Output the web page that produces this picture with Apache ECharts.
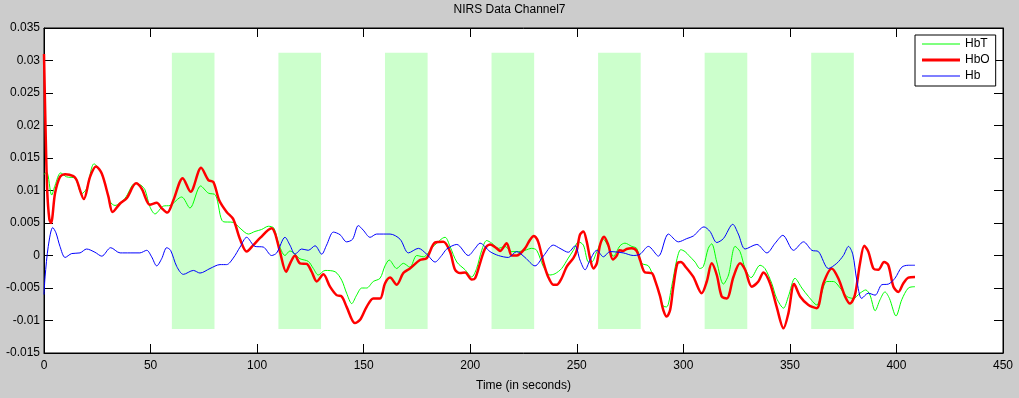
<!DOCTYPE html>
<html>
<head>
<meta charset="utf-8">
<title>NIRS Data Channel7</title>
<script src="https://cdn.jsdelivr.net/npm/echarts@6/dist/echarts.min.js"></script>
<style>
    html, body { margin: 0; padding: 0; background: #cccccc; }
    #main { width: 1019px; height: 398px; }
</style>
</head>
<body>
<div id="main"></div>
<script>
// stimulus blocks (seconds)
var blockStarts = [60, 110, 160, 210, 260, 310, 360];
var blockLength = 20;
var blockTop = 0.0312;
var blockBottom = -0.0113;

var xTicks = [0, 450, 50];          // min, max, step
var yTicks = [-0.015, 0.035, 0.005];

// [time, value]
var hbtPoints = [
    [0, 0.0125], [1.3, 0.0128], [3.6, 0.0093], [5.2, 0.0108], [7.8, 0.0127], [10.6, 0.0121],
    [14.5, 0.0119], [17.7, 0.0095], [20, 0.0103], [23.5, 0.0141], [27.1, 0.0126], [31, 0.0083],
    [33.3, 0.0077], [38, 0.0088], [42.7, 0.0111], [45.5, 0.0108], [47.4, 0.0101], [49.7, 0.0075],
    [52.1, 0.0064], [56, 0.0076], [59.1, 0.0077], [64.6, 0.0090], [68.5, 0.0073], [73.5, 0.0107],
    [77.1, 0.0096], [80.5, 0.0093], [84.1, 0.0052], [88.8, 0.0051], [92, 0.0042], [95.9, 0.0033],
    [99, 0.0037], [102.1, 0.0040], [105.3, 0.0045], [107.9, 0.0042], [110, 0.0019], [113.1, 0.0],
    [115.4, 0.0007], [117.8, 0.0002], [120.1, -0.0005], [124, -0.0009], [126.4, -0.0020],
    [128.7, -0.0030], [131.9, -0.0023], [136.6, -0.0025], [139.7, -0.0038], [142, -0.0058],
    [144.4, -0.0074], [146.7, -0.0061], [149.1, -0.0050], [151.4, -0.0050], [154.5, -0.0040],
    [157.7, -0.0035], [160, -0.0016], [162, -0.0007], [165.5, -0.0020], [168.6, -0.0012],
    [171.7, -0.0018], [174.9, 0.0], [178, -0.0002], [182.7, 0.0014], [188.2, 0.0028], [190.5, 0.0014],
    [193.7, -0.0010], [197.6, -0.0022], [200.7, -0.0033], [203, -0.0020], [205.4, 0.0008],
    [207.7, 0.0023], [210.1, 0.0019], [213.2, 0.0011], [216.3, 0.0014], [219.5, 0.0006],
    [222.6, 0.0006], [225.7, 0.0008], [228.8, 0.0011], [231.2, 0.0008], [234.3, -0.0017],
    [237.4, -0.0030], [239.8, -0.0028], [242.9, -0.0020], [246, -0.0004], [248.4, 0.0008],
    [250.8, 0.0021], [253.1, 0.0016], [255.5, -0.0010], [257, -0.0010], [259.4, 0.0006],
    [262.5, 0.0025], [264.8, 0.0014], [267.2, -0.0001], [270.3, 0.0015], [272.6, 0.0019],
    [275.8, 0.0014], [278.1, 0.0011], [280.5, -0.0012], [283.6, -0.0016], [286, -0.0033],
    [288.3, -0.0053], [290.6, -0.0078], [292.2, -0.0079], [294.5, -0.0048], [296.9, -0.0007],
    [298.8, 0.0009], [300.8, 0.0006], [302.6, 0.0], [305.5, -0.0010], [307.8, -0.0020],
    [309.4, -0.0017], [311.7, 0.0011], [313.3, 0.0018], [315.7, -0.0010], [318.8, -0.0044],
    [321.2, -0.0030], [324.3, 0.0014], [326.6, 0.0006], [329, -0.0020], [331.8, -0.0034],
    [336, -0.0015], [338.3, -0.0020], [341.5, -0.0043], [343.8, -0.0066], [347, -0.0081],
    [349.3, -0.0063], [352.4, -0.0035], [355.6, -0.0050], [358.7, -0.0063], [362.6, -0.0076],
    [367.3, -0.0040], [370.4, -0.0040], [373.6, -0.0050], [376.7, -0.0063], [379.8, -0.0066],
    [382.9, -0.0058], [385.6, -0.0053], [387.6, -0.0061], [390, -0.0085], [392.3, -0.0068],
    [394.6, -0.0056], [396.7, -0.0066], [399.8, -0.0093], [402.5, -0.0068], [405.6, -0.0050],
    [408.7, -0.0048]
];

var hboPoints = [
    [0, 0.031], [0.7, 0.020], [1.5, 0.010], [2.5, 0.0056], [3.3, 0.0050], [5.2, 0.0096],
    [7.5, 0.0121], [9.9, 0.0125], [13.8, 0.0122], [15.3, 0.0116], [18.7, 0.0087], [21.6, 0.0121],
    [24.4, 0.0137], [27.1, 0.0126], [30.2, 0.0091], [32.2, 0.0067], [35.7, 0.0080], [38.8, 0.0088],
    [43.2, 0.0111], [45.8, 0.0103], [49.7, 0.0078], [52.9, 0.0081], [55.2, 0.0073], [57.9, 0.0066],
    [60.7, 0.0085], [65.1, 0.0119], [68.8, 0.0098], [73.7, 0.0135], [77.1, 0.0116], [79.5, 0.0113],
    [82.2, 0.0085], [85.7, 0.0067], [88.8, 0.0056], [92, 0.0025], [95.1, 0.0006], [98.2, 0.0016],
    [101.4, 0.0027], [106.8, 0.0042], [108.4, 0.0034], [110.7, 0.0006], [113.6, -0.0025],
    [115.5, -0.0012], [117.8, 0.0], [120.1, -0.0012], [123.3, -0.0013], [125.6, -0.0025],
    [128, -0.0040], [131.1, -0.0029], [134.2, -0.0048], [137.3, -0.0061], [139.7, -0.0063],
    [142, -0.0079], [145.9, -0.0104], [148.3, -0.0099], [151.4, -0.0079], [154.5, -0.0066],
    [157.7, -0.0066], [160, -0.0043], [162.4, -0.0034], [165.5, -0.0045], [168.6, -0.0027],
    [171.7, -0.0020], [176.4, -0.0007], [179.6, -0.0004], [183.5, 0.0020], [187.4, 0.0021],
    [190.5, 0.0006], [192.9, -0.0022], [195.2, -0.0027], [197.6, -0.0026], [200.7, -0.0037],
    [202.3, -0.0035], [204.6, -0.0012], [207, 0.0011], [209.3, 0.0017], [212.4, 0.0011],
    [214, 0.0007], [217.1, 0.0019], [219.5, 0.0], [221.8, 0.0], [225.7, 0.0011], [228, 0.0024],
    [229.9, 0.0030], [231.9, 0.0021], [234.3, -0.0010], [236.6, -0.0033], [239, -0.0045],
    [240.6, -0.0045], [242.9, -0.0035], [245.3, -0.0017], [248.4, -0.0004], [250, 0.0008],
    [251.5, 0.0032], [253.1, 0.0037], [254.7, 0.0021], [256.2, -0.0004], [257.8, -0.0020],
    [259.4, -0.0012], [260.9, 0.0016], [262.8, 0.0029], [264.8, 0.0016], [266.9, -0.0006],
    [268.8, 0.0], [270, 0.0008], [271.6, 0.0007], [273.4, 0.0010], [275.8, 0.0011], [278.1, 0.0007],
    [279.7, -0.0007], [282, -0.0026], [285.2, -0.0027], [286.7, -0.0038], [289.1, -0.0063],
    [290.6, -0.0084], [292.2, -0.0094], [293.8, -0.0084], [295.3, -0.0048], [297.2, -0.0012],
    [298.8, -0.0010], [301.2, -0.0018], [304.7, -0.0033], [308.6, -0.0058], [311, -0.0040],
    [313.3, -0.0012], [315.7, -0.0030], [318, -0.0063], [320.4, -0.0066], [323.5, -0.0033],
    [326.6, -0.0012], [329, -0.0022], [332.1, -0.0048], [335.2, -0.0040], [337.6, -0.0026],
    [340.7, -0.0043], [343.8, -0.0079], [347, -0.0112], [349.3, -0.0089], [352, -0.0044],
    [354.8, -0.0063], [358.7, -0.0076], [362.6, -0.0081], [365.7, -0.0043], [369.6, -0.0020],
    [372.7, -0.0035], [375.9, -0.0063], [378.2, -0.0074], [380.5, -0.0061], [382.9, -0.0012],
    [384.9, 0.0015], [386.8, 0.0006], [389.2, -0.0020], [391.5, -0.0022], [394.2, -0.0010],
    [396.2, -0.0015], [398.6, -0.0048], [400.9, -0.0056], [403.2, -0.0043], [405.6, -0.0034],
    [408.7, -0.0033]
];

var hbPoints = [
    [0, -0.006], [0.5, -0.0033], [2, 0.0014], [4.1, 0.0043], [5.6, 0.0035], [7.5, 0.0014],
    [9.9, -0.0003], [13, 0.0003], [16.9, 0.0004], [20, 0.0010], [23.9, 0.0005], [27.1, -0.0001],
    [31.3, 0.0012], [35.7, 0.0004], [40.4, 0.0004], [45, 0.0004], [48.2, 0.0008], [50.5, -0.0002],
    [52.9, -0.0016], [55.2, -0.0005], [57.6, 0.0012], [59.4, 0.0008], [62.3, -0.0017],
    [65.4, -0.0029], [70.1, -0.0023], [73.2, -0.0027], [77.9, -0.0020], [82.6, -0.0014],
    [85.7, -0.0014], [88.8, -0.0004], [92, 0.0013], [95.1, 0.0028], [99, 0.0014], [102.9, 0.0013],
    [106.8, 0.0], [109.2, 0.0004], [113.1, 0.0028], [115.4, 0.0016], [117.8, 0.0002],
    [120.9, 0.0010], [124, 0.0008], [127.2, 0.0015], [130.3, 0.0002], [132.6, 0.0016],
    [135.8, 0.0036], [138.9, 0.0032], [142, 0.0021], [144.8, 0.0025], [147.5, 0.0046],
    [149.8, 0.0039], [153, 0.0028], [156.1, 0.0033], [162.4, 0.0033], [167.1, 0.0025],
    [171, 0.0004], [175.7, 0.0011], [179.6, 0.0002], [183.5, -0.0010], [186.6, 0.0], [189, 0.0010],
    [193.7, 0.0017], [199.1, 0.0], [202.3, 0.0011], [204.6, 0.0019], [209.3, 0.0006], [213.2, 0.0],
    [217.9, -0.0003], [221.8, 0.0006], [225.7, -0.0003], [230.4, -0.0016], [234.3, -0.0001],
    [239, 0.0016], [242.1, 0.0011], [246, 0.0005], [249.2, 0.0015], [251.5, -0.0007],
    [253.9, -0.0022], [256.2, -0.0007], [259.4, 0.0008], [262.5, -0.0002], [265.6, 0.0006],
    [271.8, 0.0004], [276.5, 0.0], [279.7, 0.0002], [283.6, 0.0014], [288.3, -0.0001],
    [293, 0.0033], [297.7, 0.0021], [301.6, 0.0026], [304.7, 0.0030], [309.7, 0.0044],
    [312.5, 0.0037], [315.7, 0.0020], [318.8, 0.0026], [323.2, 0.0048], [325.8, 0.0033],
    [329, 0.0010], [334.5, 0.0017], [339.2, 0.0004], [343.1, 0.0019], [346.7, 0.0031],
    [351.7, 0.0008], [356.4, 0.0021], [360.3, 0.0008], [363.4, 0.0006], [368.1, -0.0020],
    [372, -0.0012], [375.1, 0.0], [377.5, 0.0014], [379.5, 0.0002], [381.4, -0.0038],
    [383.7, -0.0066], [386.8, -0.0058], [390, -0.0061], [393.1, -0.0045], [396.2, -0.0044],
    [399.3, -0.0035], [402.5, -0.0018], [405.6, -0.0015], [408.7, -0.0015]
];

var FONT = 'Liberation Sans';

var dom = document.getElementById('main');
var myChart = echarts.init(dom);

// shaded blocks: [start, end, bottom, top]
var blockRects = [];
for (var i = 0; i < blockStarts.length; i++) {
    blockRects.push([blockStarts[i], blockStarts[i] + blockLength, blockBottom, blockTop]);
}

function renderBlock(params, api) {
    var p1 = api.coord([api.value(0), api.value(3)]);
    var p2 = api.coord([api.value(1), api.value(2)]);
    return {
        type: 'rect',
        shape: { x: p1[0], y: p1[1], width: p2[0] - p1[0], height: p2[1] - p1[1] },
        style: { fill: '#ccffcc' }
    };
}

function yLabel(v) {
    return String(+v.toFixed(3));
}

// matlab style: ticks inside, on all four sides.
// each visible axis sits "on zero" of a helper axis whose zero is at the wanted edge
function makeAxis(ticks, pos, withLabels, zeroIndex) {
    return {
        type: 'value',
        position: pos,
        min: ticks[0],
        max: ticks[1],
        interval: ticks[2],
        axisLine: { show: true, onZero: true, onZeroAxisIndex: zeroIndex, lineStyle: { color: '#000' } },
        axisTick: { show: true, inside: true, length: 9, lineStyle: { color: '#000', width: 1 } },
        axisLabel: { show: withLabels, color: '#000', fontSize: 12, fontFamily: FONT },
        splitLine: { show: false }
    };
}

function helperAxis(inverse) {
    return { type: 'value', min: 0, max: 1, inverse: inverse, show: false };
}

var xBottom = makeAxis(xTicks, 'bottom', true, 2);
xBottom.name = 'Time (in seconds)';
xBottom.nameLocation = 'middle';
xBottom.nameGap = 27;
xBottom.nameTextStyle = { color: '#000', fontSize: 12, fontFamily: FONT };
xBottom.axisLabel.margin = 7;

var yLeft = makeAxis(yTicks, 'left', true, 0);
yLeft.axisLabel.margin = 4;
yLeft.axisLabel.formatter = yLabel;

// plain line icons for the legend (thin / thick)
var thinIcon = 'path://M0,0H38V1H0Z';
var thickIcon = 'path://M0,0H38V3H0Z';

option = {
    backgroundColor: '#cccccc',
    animation: false,
    title: {
        text: 'NIRS Data Channel7',
        left: 'center',
        top: 4,
        padding: 0,
        textStyle: { color: '#000', fontSize: 12, fontWeight: 'normal', fontFamily: FONT }
    },
    legend: {
        data: [
            { name: 'HbT', icon: thinIcon },
            { name: 'HbO', icon: thickIcon },
            { name: 'Hb', icon: thinIcon }
        ],
        orient: 'vertical',
        left: 915,
        top: 35,
        padding: [3, 6, 4, 7],
        itemWidth: 38,
        itemHeight: 14,
        itemGap: 4,
        backgroundColor: '#fff',
        borderColor: '#000',
        borderWidth: 1,
        borderRadius: 0,
        textStyle: { color: '#000', fontSize: 12, fontFamily: FONT }
    },
    grid: {
        left: 44,
        right: 16,
        top: 28,
        bottom: 45,
        show: true,
        backgroundColor: '#fff',
        borderColor: '#000'
    },
    // x: bottom, top, helper (zero at the right edge)
    xAxis: [xBottom, makeAxis(xTicks, 'top', false, 3), helperAxis(true)],
    // y: left, right, helper (zero at bottom), helper (zero at top)
    yAxis: [yLeft, makeAxis(yTicks, 'right', false, 2), helperAxis(false), helperAxis(true)],
    series: [
        {
            name: 'blocks',
            type: 'custom',
            silent: true,
            z: 1,
            encode: { x: [0, 1], y: [2, 3] },
            data: blockRects,
            renderItem: renderBlock
        },
        {
            name: 'HbT',
            type: 'line',
            data: hbtPoints,
            symbol: 'none',
            smooth: 0.3,
            lineStyle: { color: '#00ff00', width: 1 },
            itemStyle: { color: '#00ff00' }
        },
        {
            name: 'HbO',
            type: 'line',
            data: hboPoints,
            symbol: 'none',
            smooth: 0.3,
            lineStyle: { color: '#ff0000', width: 2.5 },
            itemStyle: { color: '#ff0000' }
        },
        {
            name: 'Hb',
            type: 'line',
            data: hbPoints,
            symbol: 'none',
            smooth: 0.3,
            lineStyle: { color: '#0000ff', width: 1 },
            itemStyle: { color: '#0000ff' }
        }
    ]
};

if (option && typeof option === "object") {
    myChart.setOption(option, true);
}
</script>
</body>
</html>
